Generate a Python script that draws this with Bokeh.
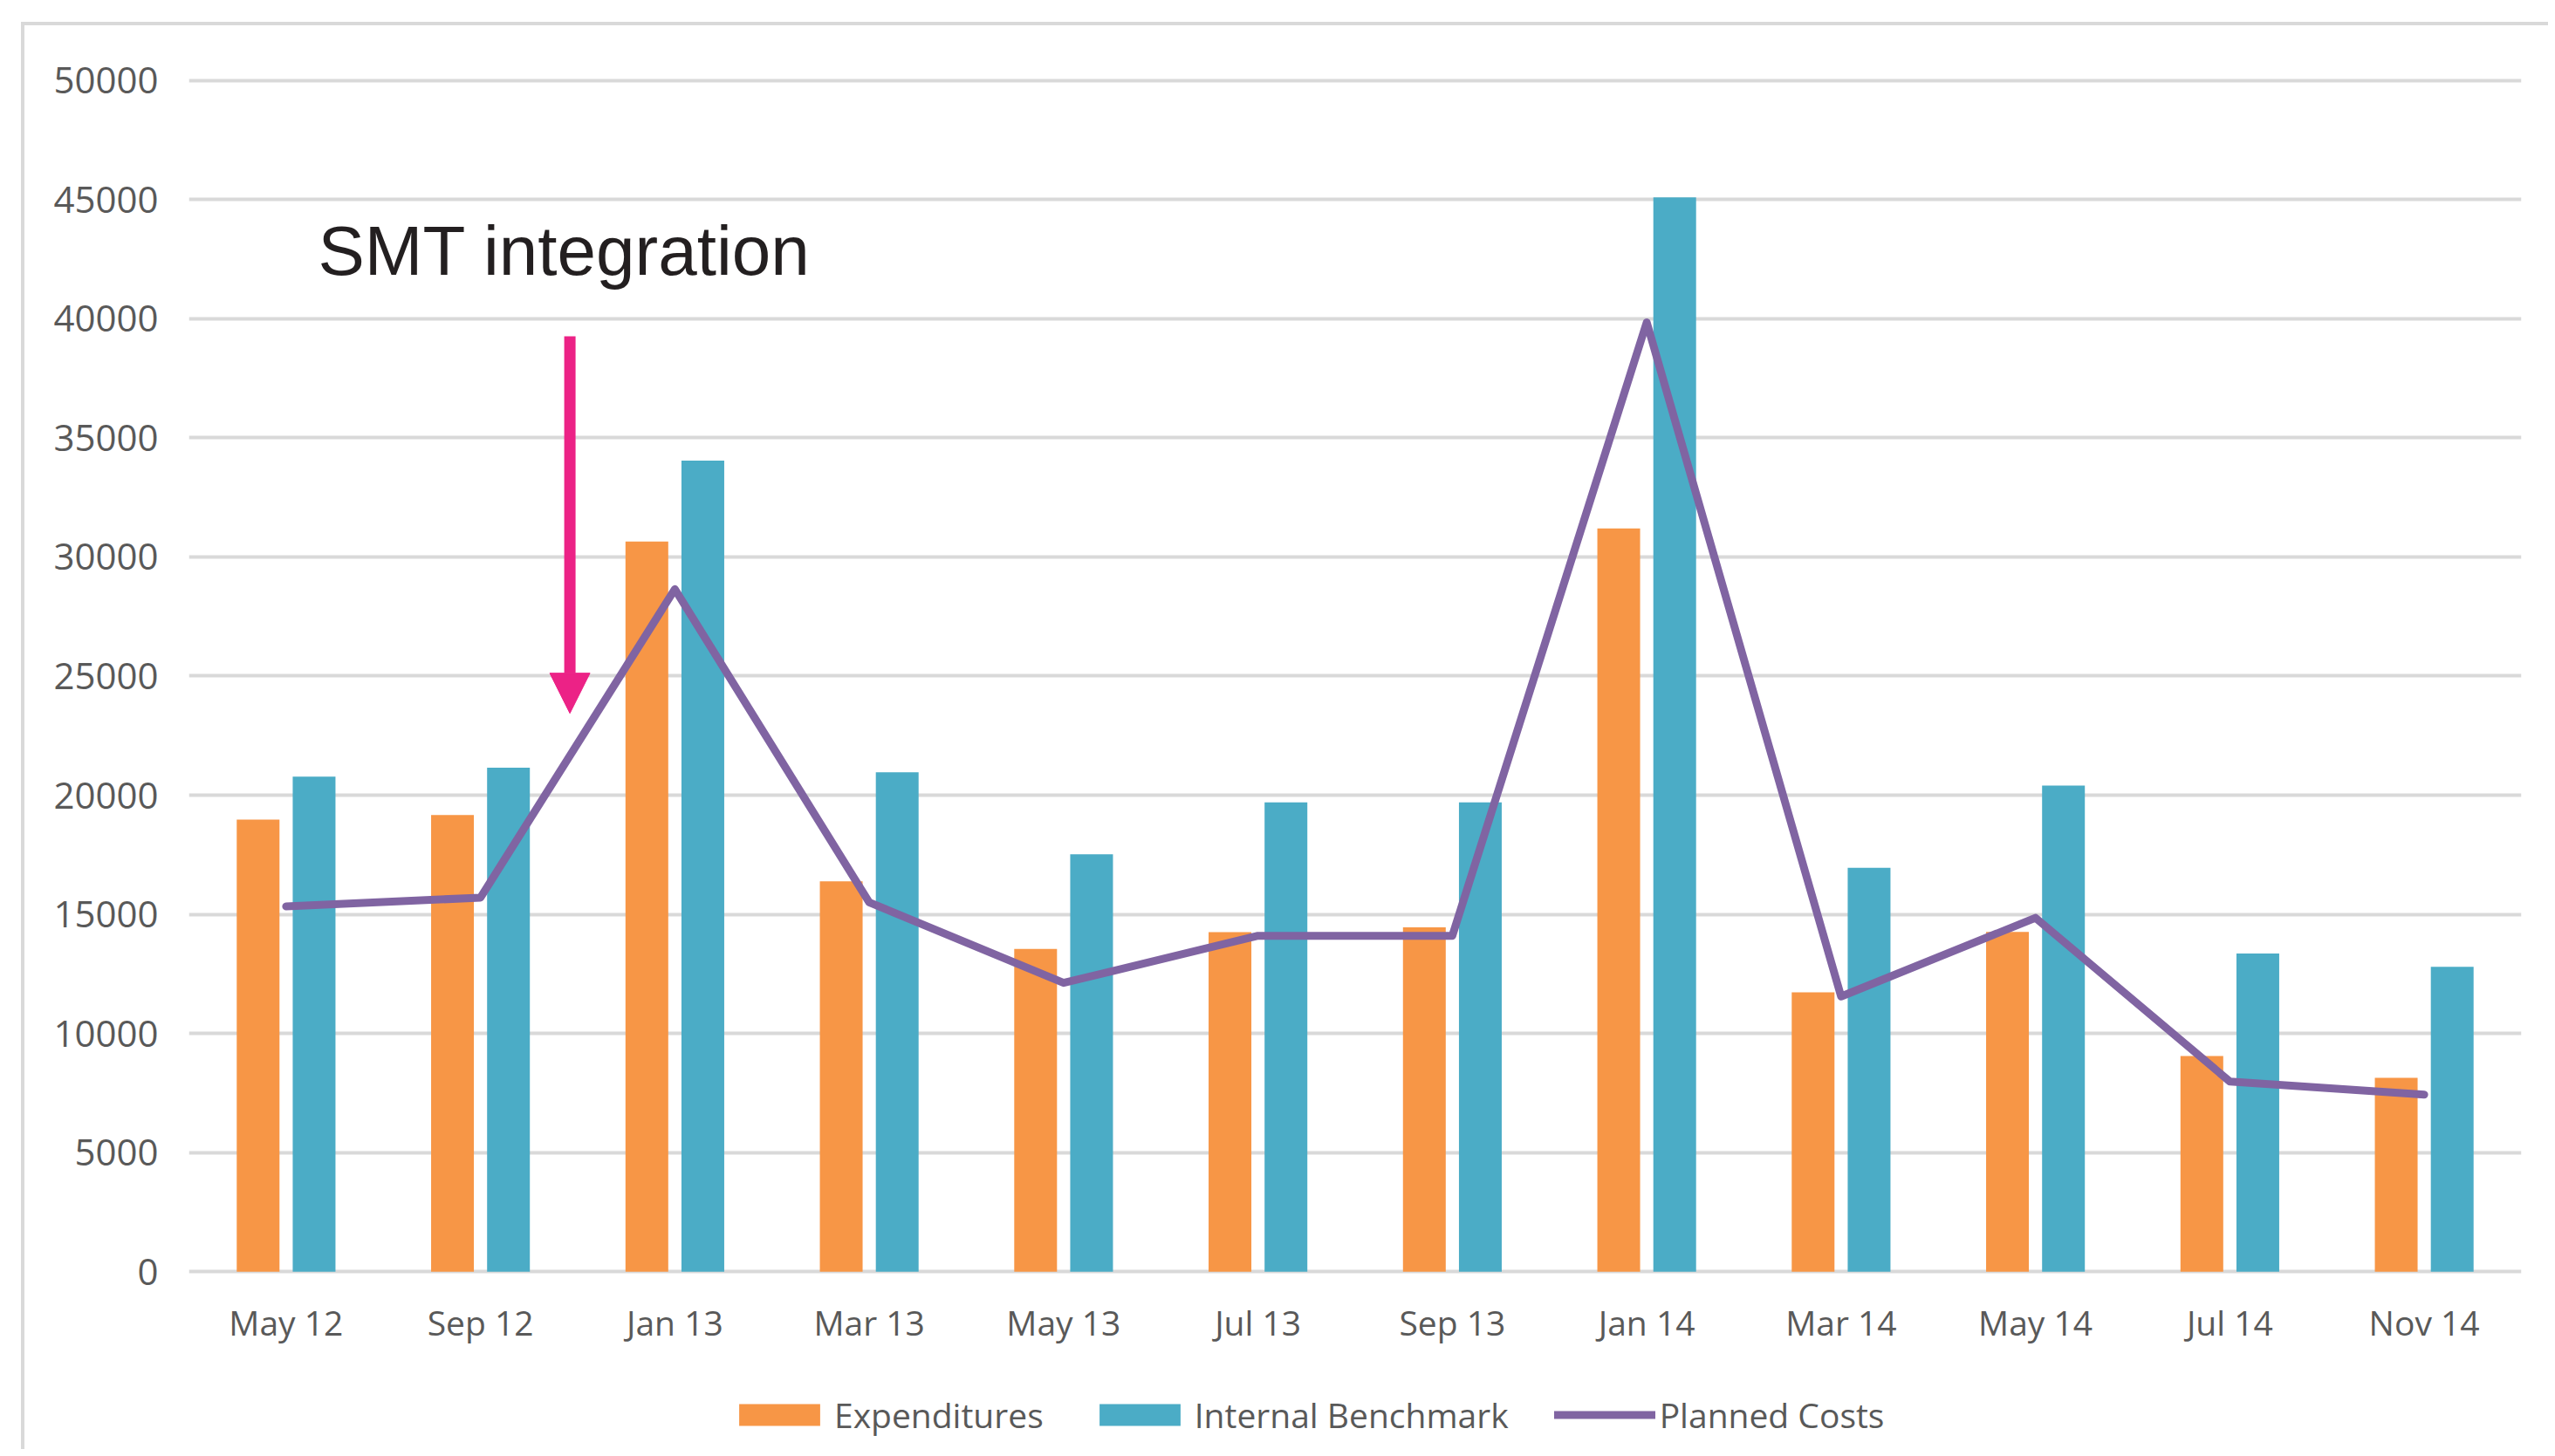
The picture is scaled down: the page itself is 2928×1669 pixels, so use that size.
from bokeh.plotting import figure
from bokeh.models import (ColumnDataSource, FactorRange, Range1d, FixedTicker, Legend, LegendItem,
                          Label, Arrow, NormalHead)
from bokeh.transform import dodge
from bokeh.embed import file_html
from bokeh.resources import INLINE

months = ["May 12", "Sep 12", "Jan 13", "Mar 13", "May 13", "Jul 13", "Sep 13",
          "Jan 14", "Mar 14", "May 14", "Jul 14", "Nov 14"]
expenditures = [18980, 19170, 30650, 16380, 13550, 14250, 14450, 31200, 11720, 14260, 9050, 8140]
internal_benchmark = [20780, 21150, 34050, 20960, 17520, 19700, 19700, 45100, 16950, 20400, 13350, 12800]
planned_costs = [15330, 15700, 28650, 15500, 12120, 14100, 14100, 39850, 11550, 14850, 7980, 7430]
y_ticks = list(range(0, 50001, 5000))

src = ColumnDataSource(dict(month=months, exp=expenditures, bench=internal_benchmark, plan=planned_costs))

FONT = "Open Sans"
TXT = "#595959"

p = figure(width=2896, height=1636, x_range=FactorRange(*months), y_range=Range1d(-7612, 50800),
           output_backend="svg", toolbar_location=None,
           min_border_left=188, min_border_right=35, min_border_top=41, min_border_bottom=0)
p.margin = (25, 0, 0, 24)
p.styles = {"border-left": "4px solid #D9D9D9", "border-top": "4px solid #D9D9D9"}
p.outline_line_color = None
p.background_fill_color = "white"
p.border_fill_color = "white"

r_exp = p.vbar(x=dodge("month", -0.144, range=p.x_range), top="exp", bottom=0, width=0.22,
               source=src, fill_color="#F79646", line_color=None)
r_bench = p.vbar(x=dodge("month", 0.144, range=p.x_range), top="bench", bottom=0, width=0.22,
                 source=src, fill_color="#4BACC6", line_color=None)
r_plan = p.line(x="month", y="plan", source=src, line_color="#8064A2", line_width=9,
                line_join="round", line_cap="round")

p.xgrid.grid_line_color = None
p.ygrid.ticker = FixedTicker(ticks=y_ticks)
p.ygrid.grid_line_color = "#D9D9D9"
p.ygrid.grid_line_width = 4

p.yaxis.ticker = FixedTicker(ticks=y_ticks)
for ax in (p.xaxis[0], p.yaxis[0]):
    ax.axis_line_color = None
    ax.major_tick_line_color = None
    ax.minor_tick_line_color = None
    ax.major_label_text_font = FONT
    ax.major_label_text_color = TXT
p.xaxis.fixed_location = 0
p.xaxis.major_label_text_font_size = "39px"
p.yaxis.major_label_text_font_size = "42px"
p.yaxis.major_label_standoff = 29
p.xaxis.major_label_standoff = 25

legend = Legend(items=[LegendItem(label="Expenditures", renderers=[r_exp]),
                       LegendItem(label="Internal Benchmark", renderers=[r_bench]),
                       LegendItem(label="Planned Costs", renderers=[r_plan])],
                orientation="horizontal", location=(619, 17),
                glyph_width=116, glyph_height=31, label_standoff=5, spacing=52,
                padding=0, margin=0, border_line_color=None, background_fill_alpha=0,
                label_text_font=FONT, label_text_font_size="39px", label_text_color=TXT)
p.add_layout(legend, "center")

p.add_layout(Label(x=0.664, y=42850, text="SMT integration", text_font="Liberation Sans",
                   text_font_size="80px", text_color="#231F20", text_baseline="alphabetic"))
p.add_layout(Arrow(x_start=1.96, y_start=39260, x_end=1.96, y_end=23438,
                   line_color="#EC2286", line_width=13,
                   end=NormalHead(size=46, fill_color="#EC2286", line_color="#EC2286", line_width=1)))

open("out.html", "w").write(file_html(p, INLINE))
